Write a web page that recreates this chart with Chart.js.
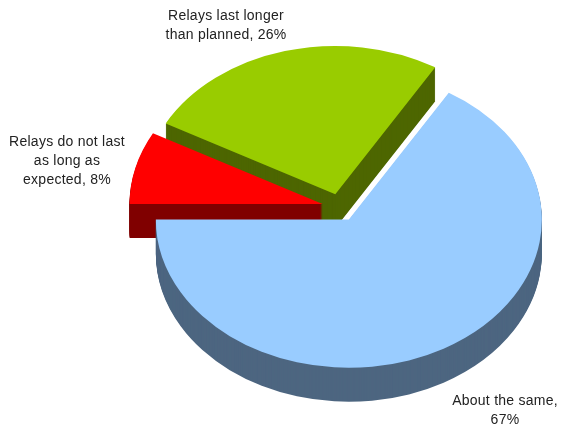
<!DOCTYPE html>
<html>
<head>
<meta charset="utf-8">
<title>Relay life</title>
<style>
  html, body { margin: 0; padding: 0; background: #fff; }
  canvas { display: block; }
</style>
<script src="https://cdn.jsdelivr.net/npm/chart.js@4/dist/chart.umd.min.js"></script>
</head>
<body>
<canvas id="relayChart" width="561" height="425"></canvas>
<script>
// Survey answers, clockwise from the left-hand edge of the pie
var categories = ['Relays do not last as long as expected', 'Relays last longer than planned', 'About the same'];
var shares = [8, 26, 67];

var sliceColors = ['#ff0000', '#99cc00', '#99ccff'];
var sideColors = ['#800000', '#4d6600', '#4d6680'];

var sliceLabels = [
  ['Relays do not last', 'as long as', 'expected, 8%'],
  ['Relays last longer', 'than planned, 26%'],
  ['About the same,', '67%']
];

// Where each label block is centred, and the baseline of its first line
var labelAnchors = [[67, 146], [226, 20], [505, 405]];

var TILT = 0.768;        // vertical squash of the pie
var DEPTH = 34;          // height of the side walls
var EXPLODE = 18;        // how far slices are pulled from the middle
var SIDE_ORDER = [1, 0, 2];  // back walls first

function drawSlice(ctx, arc, drop) {
  var mid = (arc.startAngle + arc.endAngle) / 2;
  ctx.save();
  ctx.translate(Math.cos(mid) * EXPLODE, Math.sin(mid) * EXPLODE * TILT + drop);
  ctx.translate(arc.x, arc.y);
  ctx.scale(1, TILT);
  ctx.translate(-arc.x, -arc.y);
  arc.draw(ctx);
  ctx.restore();
}

var pie3d = {
  id: 'pie3d',
  beforeDatasetsDraw: function(chart) {
    var ctx = chart.ctx;
    var arcs = chart.getDatasetMeta(0).data;

    SIDE_ORDER.forEach(function(i) {
      var opts = arcs[i].options;
      var top = opts.backgroundColor;
      opts.backgroundColor = sideColors[i];
      for (var d = DEPTH; d > 0; d--) {
        drawSlice(ctx, arcs[i], d);
      }
      opts.backgroundColor = top;
    });

    arcs.forEach(function(arc) {
      drawSlice(ctx, arc, 0);
    });
    return false;
  },
  afterDraw: function(chart) {
    var ctx = chart.ctx;
    ctx.save();
    ctx.fillStyle = '#222';
    ctx.font = '14px "Liberation Sans", Arial, sans-serif';
    ctx.letterSpacing = '0.25px';
    ctx.textAlign = 'center';
    sliceLabels.forEach(function(lines, i) {
      lines.forEach(function(line, n) {
        ctx.fillText(line, labelAnchors[i][0], labelAnchors[i][1] + n * 19);
      });
    });
    ctx.restore();
  }
};

var relayChart = new Chart(document.getElementById('relayChart').getContext('2d'), {
  type: 'pie',
  data: {
    labels: categories,
    datasets: [{
      data: shares,
      backgroundColor: sliceColors,
      borderWidth: 0
    }]
  },
  options: {
    responsive: false,
    animation: false,
    rotation: 270,
    radius: 193,
    layout: { padding: { left: 119, bottom: 10 } },
    plugins: {
      legend: { display: false },
      tooltip: { enabled: false }
    }
  },
  plugins: [pie3d]
});
</script>
</body>
</html>
